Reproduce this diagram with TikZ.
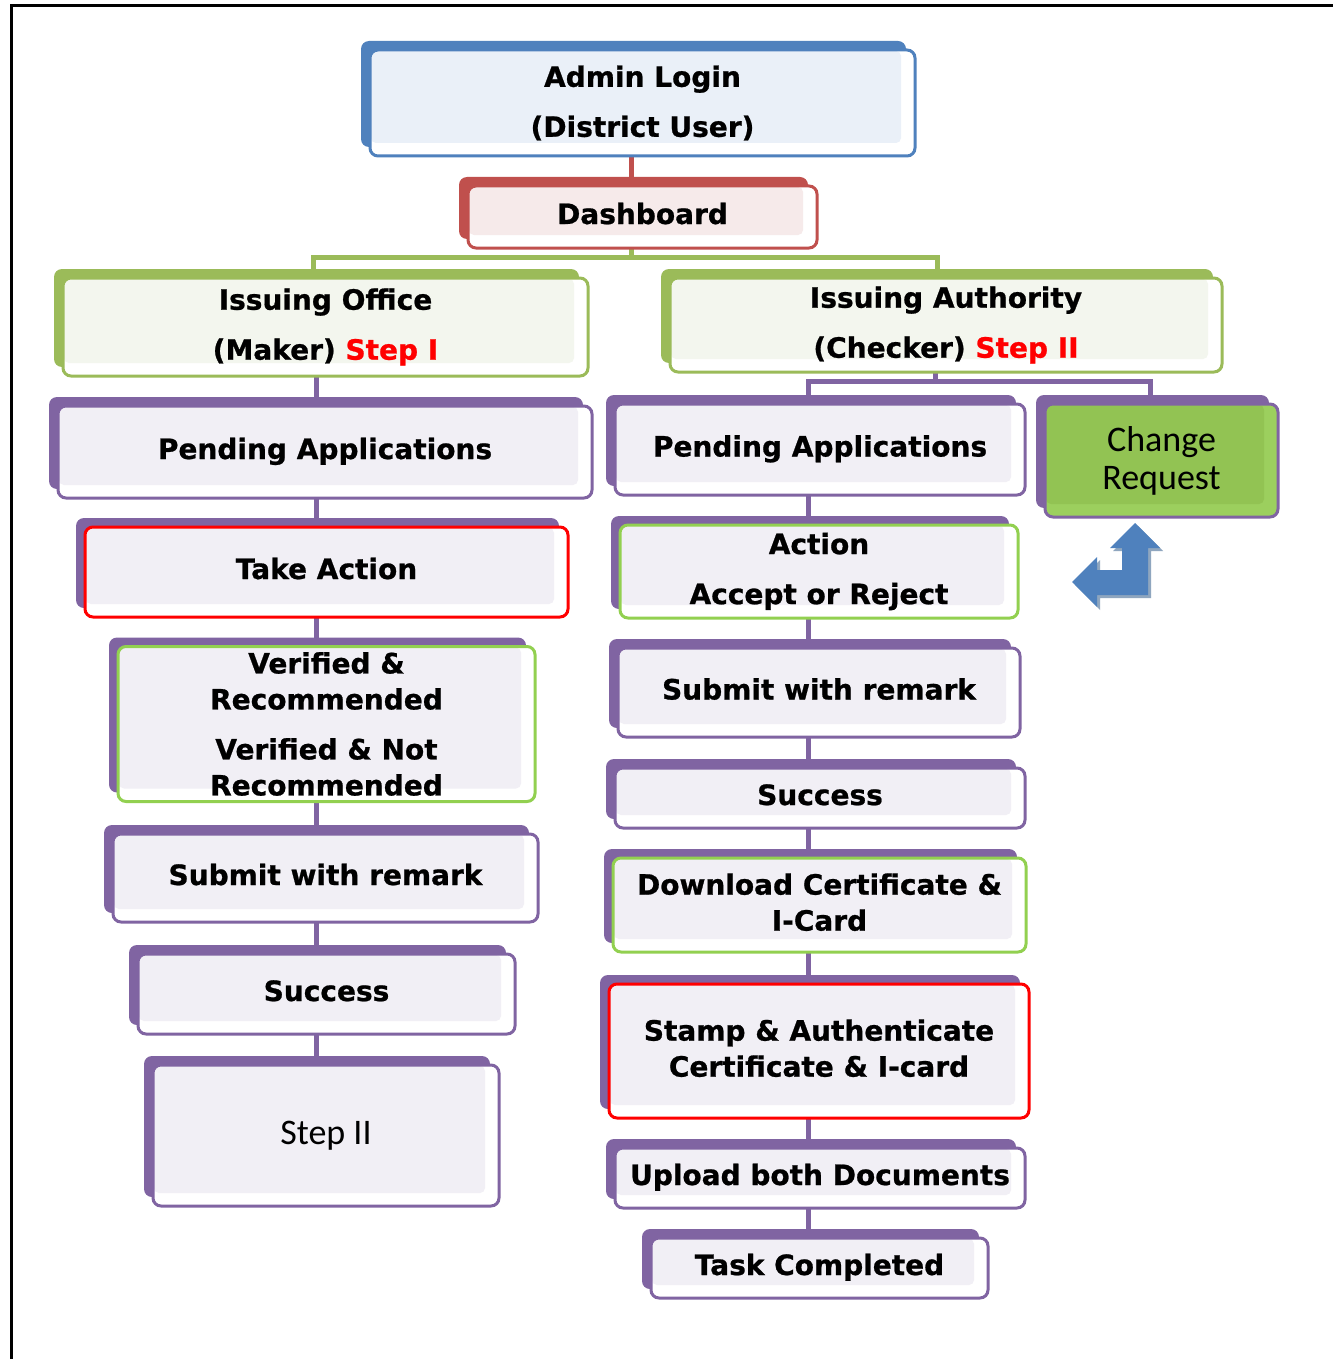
\documentclass[tikz,border=0pt]{standalone}
\usepackage{fontspec}
\newfontfamily\dvsans{DejaVu Sans}[BoldFeatures={FakeBold=0.8}]
\newfontfamily\carl{Carlito}
\usetikzlibrary{shadows}
\definecolor{cblue}{HTML}{4F81BD}
\definecolor{lblue}{HTML}{EAF0F8}
\definecolor{cred}{HTML}{C0504D}
\definecolor{lred}{HTML}{F6EAEA}
\definecolor{cgreen}{HTML}{9BBB59}
\definecolor{lgreen}{HTML}{F3F6EE}
\definecolor{cpurple}{HTML}{8064A2}
\definecolor{lpurple}{HTML}{F1EFF5}
\definecolor{bred}{HTML}{FF0000}
\definecolor{bgreen}{HTML}{92D050}
\definecolor{crfill}{HTML}{92C353}
\definecolor{crfront}{HTML}{9CCF5E}
\definecolor{arrshadow}{HTML}{8FA6BF}
\newcommand\stfont{\dvsans\bfseries\fontsize{28}{36}\selectfont}
\pgfdeclarelayer{paper}
\pgfdeclarelayer{bg}
\pgfsetlayers{paper,bg,main}
\begin{document}
\begin{tikzpicture}[x=1pt,y=-1pt,
  stage/.style n args={3}{draw=#1, line width=3pt, rounded corners=8pt,
    fill=white, inner sep=0pt, outer sep=0pt, align=center, font=\stfont,
    text=black,
    general shadow={fill=#2, shadow xshift=-9pt, shadow yshift=9pt},
    path picture={\fill[#3, rounded corners=5pt]
      ([shift={(1pt,-1pt)}]path picture bounding box.north west) rectangle
      ([shift={(-14pt,13pt)}]path picture bounding box.south east);}},
  oneline/.style={text height=21pt, text depth=7pt},
  conn/.style={line width=5pt, draw=cpurple},
  calfont/.style={font=\carl\fontsize{36}{38}\selectfont}]
\useasboundingbox (0,0) rectangle (1333,1359);
\begin{pgfonlayer}{paper}
\fill[white] (0,0) rectangle (1333,1359);
\end{pgfonlayer}
\draw[line width=3pt] (11,1359) -- (11,6) -- (1333,6);

% top
\node[stage={cblue}{cblue}{lblue}, minimum width=545, minimum height=106] (admin) at (642.5,103) {Admin Login\\[14pt](District User)};
\node[stage={cred}{cred}{lred}, oneline, minimum width=349, minimum height=62] (dash) at (642.5,217) {Dashboard};
\node[stage={cgreen}{cgreen}{lgreen}, minimum width=525, minimum height=98] (io) at (325.5,327) {Issuing Office\\[14pt](Maker) \textcolor{bred}{Step I}};
\node[stage={cgreen}{cgreen}{lgreen}, minimum width=552, minimum height=94] (ia) at (946,325) {Issuing Authority\\[14pt](Checker) \textcolor{bred}{Step II}};

% left column
\node[stage={cpurple}{cpurple}{lpurple}, oneline, minimum width=534, minimum height=92] (pendL) at (325,452) {Pending Applications};
\node[stage={bred}{cpurple}{lpurple}, oneline, minimum width=483, minimum height=90] (take) at (326.5,572) {Take Action};
\node[stage={bgreen}{cpurple}{lpurple}, minimum width=417, minimum height=155] (verif) at (326.5,724) {Verified \&\\Recommended\\[14pt]Verified \& Not\\Recommended};
\node[stage={cpurple}{cpurple}{lpurple}, oneline, minimum width=425, minimum height=88] (subL) at (325.5,878) {Submit with remark};
\node[stage={cpurple}{cpurple}{lpurple}, oneline, minimum width=377, minimum height=80] (succL) at (326.5,994) {Success};
\node[stage={cpurple}{cpurple}{lpurple}, minimum width=346, minimum height=141, calfont] (step2) at (326,1135.5) {Step II};

% right column
\node[stage={cpurple}{cpurple}{lpurple}, oneline, minimum width=410, minimum height=91] (pendR) at (820,449.5) {Pending Applications};
\node[stage={cpurple}{cpurple}{crfill}, fill=crfront, minimum width=233, minimum height=113, calfont] (cr) at (1161.5,460.5) {Change\\Request};
\node[stage={bgreen}{cpurple}{lpurple}, minimum width=398, minimum height=93] (action) at (819,571.5) {Action\\[14pt]Accept or Reject};
\node[stage={cpurple}{cpurple}{lpurple}, oneline, minimum width=402, minimum height=89] (subR) at (819,692.5) {Submit with remark};
\node[stage={cpurple}{cpurple}{lpurple}, oneline, minimum width=410, minimum height=60] (succR) at (820,798) {Success};
\node[stage={bgreen}{cpurple}{lpurple}, minimum width=413, minimum height=94] (down) at (819.5,905) {Download Certificate \&\\I-Card\rule[-6pt]{0pt}{6pt}};
\node[stage={bred}{cpurple}{lpurple}, minimum width=420, minimum height=134] (stamp) at (819,1051) {Stamp \& Authenticate\\Certificate \& I-card\rule[-6pt]{0pt}{6pt}};
\node[stage={cpurple}{cpurple}{lpurple}, oneline, minimum width=410, minimum height=60] (upl) at (820,1178) {Upload both Documents};
\node[stage={cpurple}{cpurple}{lpurple}, oneline, minimum width=337, minimum height=60] (task) at (819.5,1268) {Task Completed};

% bent arrow
\fill[arrshadow] ([shift={(3,3)}]1135,523) -- ++(25,25) -- ++(-12,0) -- ++(0,47) -- ++(-51,0) -- ++(0,12) -- ++(-25,-25) -- ++(25,-25) -- ++(0,13) -- ++(25,0) -- ++(0,-22) -- ++(-12,0) -- cycle;
\fill[cblue] (1135,523) -- (1160,548) -- (1148,548) -- (1148,595) -- (1097,595) -- (1097,607) -- (1072,582) -- (1097,557) -- (1097,570) -- (1122,570) -- (1122,548) -- (1110,548) -- cycle;

% connectors
\coordinate (xl) at (316,0);
\coordinate (xm) at (631,0);
\coordinate (xr) at (808,0);
\coordinate (xia) at (935,0);
\coordinate (bL) at (313,257);
\coordinate (bR) at (937,257);
\coordinate (cL) at (808,381);
\coordinate (cR) at (1150,381);
\begin{pgfonlayer}{bg}
\draw[conn, draw=cred] (admin.center -| xm) -- (dash.center -| xm);
\draw[conn, draw=cgreen] (dash.center -| xm) |- (bL) -- (io.center -| bL);
\draw[conn, draw=cgreen] (bL -| xm) -- (bR) -- (ia.center -| bR);
\draw[conn] (ia.center -| xia) |- (cL) -- (pendR.center -| cL);
\draw[conn] (cL -| xia) -- (cR) -- (cr.center -| cR);
\foreach \a/\b in {io/pendL, pendL/take, take/verif, verif/subL, subL/succL, succL/step2}
  \draw[conn] (\a.center -| xl) -- (\b.center -| xl);
\foreach \a/\b in {pendR/action, action/subR, subR/succR, succR/down, down/stamp, stamp/upl, upl/task}
  \draw[conn] (\a.center -| xr) -- (\b.center -| xr);
\end{pgfonlayer}
\end{tikzpicture}
\end{document}
